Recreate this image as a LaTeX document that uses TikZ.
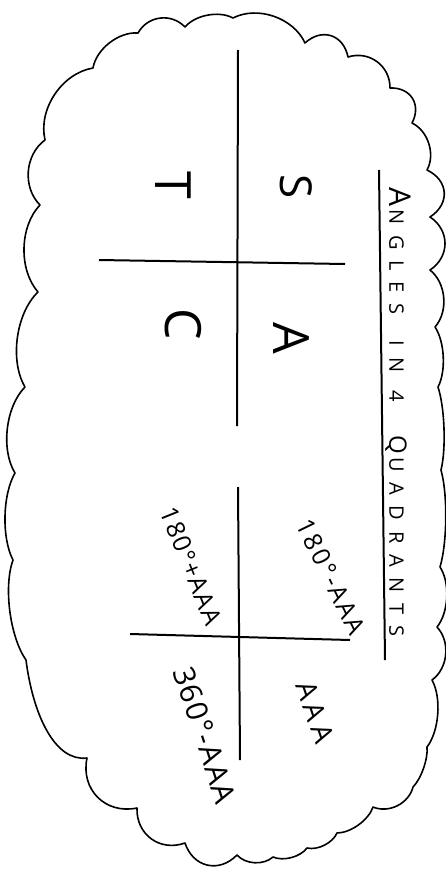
\documentclass[tikz,border=0pt]{standalone}
\usepackage{fontspec}
\setmainfont{Open Sans}
\newfontfamily\ttl[LetterSpace=54]{Open Sans}
\newfontfamily\qfa[LetterSpace=9]{Open Sans}
\newfontfamily\qfb[LetterSpace=5]{Open Sans}
\usetikzlibrary{calc}
\begin{document}
\begin{tikzpicture}[x=1pt,y=-1pt,
  cloud/.style={line width=1.6pt, line join=round},
  axis/.style={line width=2pt},
  big/.style={font=\fontsize{50}{50}\selectfont, rotate=-90, inner sep=0pt},
  qlab/.style={inner sep=0pt},
  scal/.style={to path={.. controls ($(\tikztostart)!0.25!(\tikztotarget)!#1!90:(\tikztotarget)$) and ($(\tikztostart)!0.75!(\tikztotarget)!#1!90:(\tikztotarget)$) .. (\tikztotarget)}}]
\useasboundingbox (0,0) rectangle (446,870);
% cloud outline
\draw[cloud] (45,140)
 to[scal=23pt] (93,68)
 to[scal=13pt] (138,33)
 to[scal=16pt] (185,27)
 to[scal=10pt] (233,18)
 to[scal=20pt] (305,43)
 to[scal=20pt] (348,57)
 to[scal=18pt] (390,88)
 to[scal=18pt] (412,123)
 to[scal=13pt] (427,170)
 to[scal=21pt] (430,217)
 to[scal=20pt] (430,270)
 to[scal=15pt] (435,327)
 to[scal=9pt] (438,387)
 to[scal=6pt] (441,470)
 to[scal=7pt] (440,567)
 to[scal=11pt] (437,627)
 to[scal=15pt] (432,680)
 to[scal=11pt] (427,747)
 to[scal=5pt] (413,787)
 to[scal=13pt] (373,807)
 to[scal=8pt] (337,833)
 to[scal=7pt] (307,848)
 to[scal=7pt] (273,857)
 to[scal=9pt] (237,855)
 to[scal=22pt] (185,843)
 to[scal=22pt] (137,808)
 to[scal=27pt] (87,758)
 .. controls (55,762) and (33,715) .. (26,660)
 to[scal=13pt] (13,560)
 to[scal=12pt] (15,473)
 to[scal=17pt] (25,387)
 to[scal=19pt] (38,292)
 to[scal=20pt] (40,205)
 to[scal=19pt] (45,140) -- cycle;
% axes
\coordinate (v1a) at (238,50);
\coordinate (v1b) at (237,426);
\coordinate (h1a) at (99,260);
\coordinate (h1b) at (345,264);
\coordinate (v2a) at (238,487);
\coordinate (v2b) at (240,760);
\coordinate (h2a) at (130,634);
\coordinate (h2b) at (350,640);
\coordinate (u1) at (379,170);
\coordinate (u2) at (385,660);
\draw[axis] (v1a) -- (v1b);
\draw[axis] (h1a) -- (h1b);
\draw[axis] (v2a) -- (v2b);
\draw[axis] (h2a) -- (h2b);
\draw[axis] (u1) -- (u2);
% letters
\node[big] (T) at (173,185) {T};
\node[big, font=\fontsize{44}{44}\selectfont] (S) at (296,187) {S};
\node[big] (C) at (183,324) {C};
\node[big] (A) at (291,338) {A};
% title
\node[rotate=-90, inner sep=0pt] (title) at (398,412) {{\ttl\fontsize{30}{30}\selectfont A}\hspace{3pt}{\ttl\fontsize{20}{20}\selectfont NGLES}\hspace{26pt}{\ttl\fontsize{20}{20}\selectfont IN}\hspace{18pt}{\ttl\fontsize{20}{20}\selectfont 4}\hspace{34pt}{\ttl\fontsize{24}{24}\selectfont Q}\hspace{3pt}{\ttl\fontsize{20}{20}\selectfont UADRANTS}};
% quadrant labels
\node[qlab, rotate=-64, font=\qfa\fontsize{25}{25}\selectfont] (q2) at (331,577) {180°-AAA};
\node[qlab, rotate=-68, font=\qfb\fontsize{25}{25}\selectfont] (q3) at (191,566) {180°+AAA};
\node[qlab, rotate=-71, font=\fontsize{28}{28}\selectfont] (q1) at (315,712) {A\hspace{5pt}A\hspace{5pt}A};
\node[qlab, rotate=-72, font=\qfb\fontsize{30}{30}\selectfont] (q4) at (205,735) {360°-AAA};
\end{tikzpicture}
\end{document}
